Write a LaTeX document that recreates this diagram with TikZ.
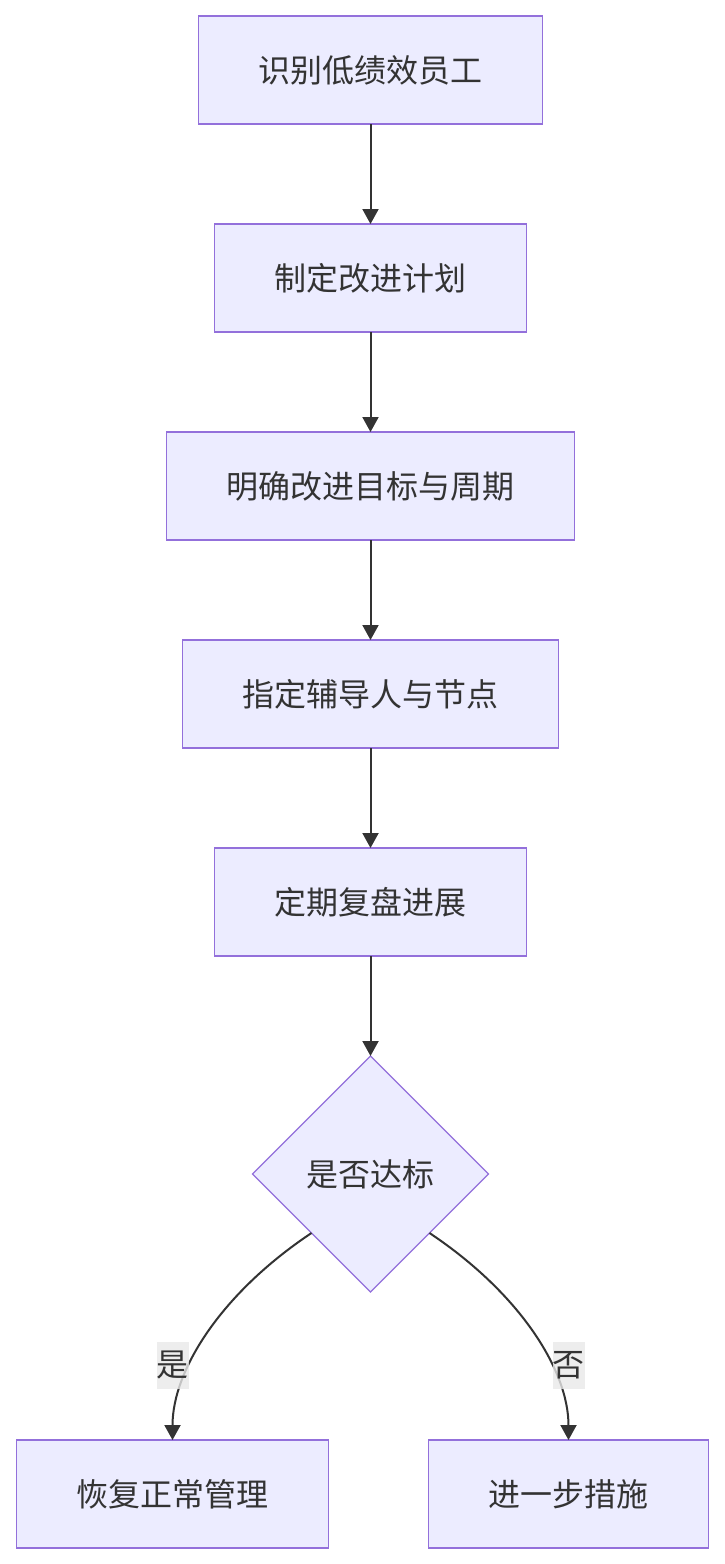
\documentclass[tikz,border=0pt]{standalone}
\usepackage{fontspec}
\setmainfont{Noto Sans CJK SC}
\usetikzlibrary{positioning,shapes.geometric,arrows.meta}
\definecolor{boxfill}{HTML}{ECECFF}
\definecolor{boxline}{HTML}{9370DB}
\definecolor{ink}{HTML}{333333}
\definecolor{lblfill}{HTML}{E8E8E8}
\tikzset{
            stepbox/.style={draw=boxline, fill=boxfill, line width=1.5pt,
                minimum height=108pt, inner sep=0pt, outer sep=0pt},
            checkbox/.style={diamond, aspect=1, draw=boxline, fill=boxfill,
                line width=1.3pt, minimum width=236pt, minimum height=236pt,
                inner sep=0pt, outer sep=0pt},
            flow/.style={draw=ink, line width=2pt, -{Triangle[length=15pt,width=16pt]}},
            lbl/.style={fill=lblfill, fill opacity=0.8, text opacity=1,
                minimum width=32pt, minimum height=47pt, inner sep=0pt}
        }

\begin{document}
\begin{tikzpicture}[
                    every node/.style={text=ink, font=\fontsize{32}{38}\selectfont},
                    node distance=100pt
                    ]
                \useasboundingbox (0,0) rectangle (724pt,-1564pt);
                \node[stepbox, minimum width=344pt] (find) at (370.5pt,-70pt) {识别低绩效员工};
                \node[stepbox, minimum width=312pt, below=of find] (plan) {制定改进计划};
                \node[stepbox, minimum width=408pt, below=of plan] (goal) {明确改进目标与周期};
                \node[stepbox, minimum width=376pt, below=of goal] (mentor) {指定辅导人与节点};
                \node[stepbox, minimum width=312pt, below=of mentor] (review) {定期复盘进展};
                \node[checkbox, below=of review] (check) {是否达标};
                \node[stepbox, minimum width=312pt, below=148pt of check, xshift=-198pt] (normal) {恢复正常管理};
                \node[stepbox, minimum width=280pt, below=148pt of check, xshift=198pt] (further) {进一步措施};

                \draw[flow] (find) -- (plan);
                \draw[flow] (plan) -- (goal);
                \draw[flow] (goal) -- (mentor);
                \draw[flow] (mentor) -- (review);
                \draw[flow] (review) -- (check);
                \draw[flow] (check.south west) .. controls +(-90pt,-60pt) and +(0,70pt) .. (normal.north);
                \draw[flow] (check.south east) .. controls +(90pt,-60pt) and +(0,70pt) .. (further.north);

                \node[lbl, above=51pt of normal] (yes) {是};
                \node[lbl, above=51pt of further] (no) {否};
            \end{tikzpicture}
\end{document}
